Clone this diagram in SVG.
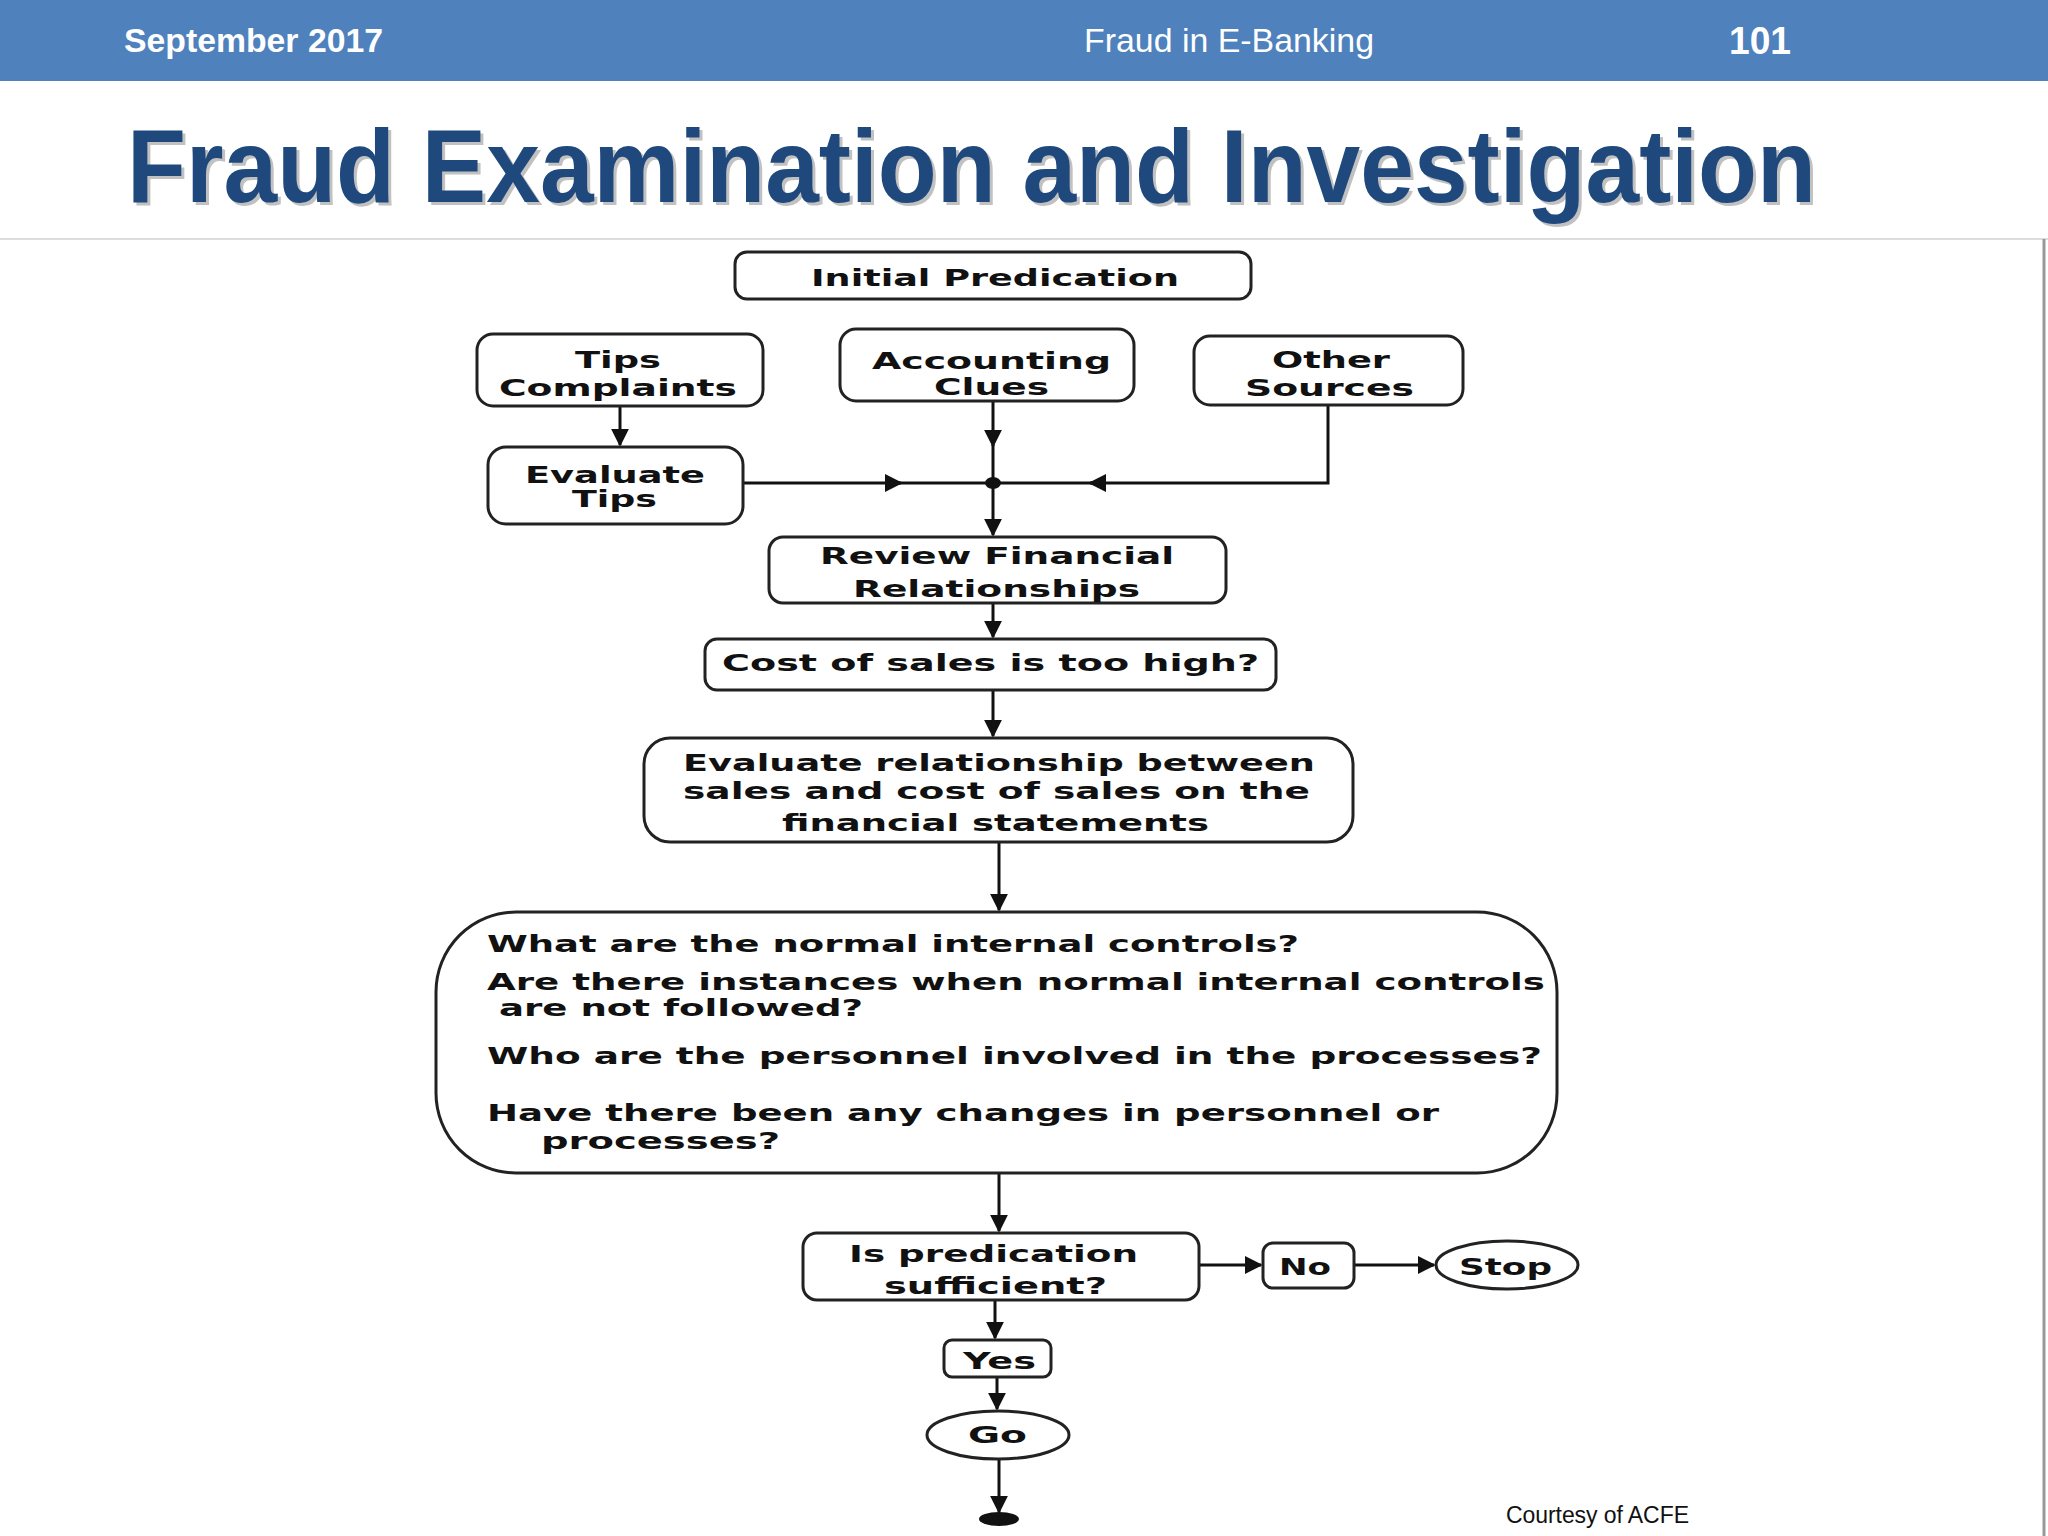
<svg xmlns="http://www.w3.org/2000/svg" width="2048" height="1536" viewBox="0 0 2048 1536">
<style>
.b{fill:#fff;stroke:#222;stroke-width:3}
.t{font-family:"DejaVu Sans",sans-serif;font-weight:bold;font-size:23px;fill:#111}
.c{stroke:#111;stroke-width:3;fill:none}
.h{font-family:"Liberation Sans",Arial,sans-serif;fill:#fff}
</style>
<defs>
<marker id="a" viewBox="0 0 10 10" refX="9" refY="5" markerWidth="6" markerHeight="6" orient="auto"><path d="M0,0L10,5L0,10z" fill="#111"/></marker>
</defs>
<rect width="2048" height="1536" fill="#fff"/>
<rect width="2048" height="81" fill="#4F81BD"/>
<text class="h" x="124" y="52" font-size="34" font-weight="bold" textLength="259" lengthAdjust="spacingAndGlyphs">September 2017</text>
<text class="h" x="1084" y="52" font-size="34" textLength="290" lengthAdjust="spacingAndGlyphs">Fraud in E-Banking</text>
<text class="h" x="1729" y="54" font-size="39" font-weight="bold" textLength="62" lengthAdjust="spacingAndGlyphs">101</text>
<text x="130" y="205" font-family="Liberation Sans,Arial,sans-serif" font-weight="bold" font-size="104" fill="#999" opacity="0.6" textLength="1689" lengthAdjust="spacingAndGlyphs">Fraud Examination and Investigation</text>
<text x="127" y="202" font-family="Liberation Sans,Arial,sans-serif" font-weight="bold" font-size="104" fill="#1F497D" textLength="1689" lengthAdjust="spacingAndGlyphs">Fraud Examination and Investigation</text>
<line x1="0" y1="239" x2="2048" y2="239" stroke="#ddd" stroke-width="2"/>
<line x1="2044" y1="239" x2="2044" y2="1536" stroke="#999" stroke-width="3"/>

<g id="connectors">
<path class="c" d="M620,406V445" marker-end="url(#a)"/>
<path class="c" d="M993,401V446" marker-end="url(#a)"/>
<path class="c" d="M993,445V483"/>
<path class="c" d="M993,483V535" marker-end="url(#a)"/>
<path class="c" d="M743,483H901" marker-end="url(#a)"/><path class="c" d="M890,483H993"/>
<path class="c" d="M1328,405V483H1090" marker-end="url(#a)"/><path class="c" d="M1100,483H993"/>
<ellipse cx="993" cy="483" rx="8" ry="6" fill="#111"/>
<path class="c" d="M993,603V637" marker-end="url(#a)"/>
<path class="c" d="M993,690V736" marker-end="url(#a)"/>
<path class="c" d="M999,842V910" marker-end="url(#a)"/>
<path class="c" d="M999,1173V1231" marker-end="url(#a)"/>
<path class="c" d="M1199,1265H1261" marker-end="url(#a)"/>
<path class="c" d="M1354,1265H1434" marker-end="url(#a)"/>
<path class="c" d="M995,1300V1338" marker-end="url(#a)"/>
<path class="c" d="M997,1377V1409" marker-end="url(#a)"/>
<path class="c" d="M999,1459V1512" marker-end="url(#a)"/>
<ellipse cx="999" cy="1519" rx="20" ry="7" fill="#111"/>
</g>

<g id="n1"><rect class="b" x="735" y="252" width="516" height="47" rx="12"/><text class="t" x="811" y="286" textLength="368" lengthAdjust="spacingAndGlyphs">Initial Predication</text></g>
<g id="n2"><rect class="b" x="477" y="334" width="286" height="72" rx="16"/><text class="t" x="575" y="368" textLength="86" lengthAdjust="spacingAndGlyphs">Tips</text><text class="t" x="499" y="396" textLength="238" lengthAdjust="spacingAndGlyphs">Complaints</text></g>
<g id="n3"><rect class="b" x="840" y="329" width="294" height="72" rx="16"/><text class="t" x="872" y="369" textLength="239" lengthAdjust="spacingAndGlyphs">Accounting</text><text class="t" x="934" y="395" textLength="115" lengthAdjust="spacingAndGlyphs">Clues</text></g>
<g id="n4"><rect class="b" x="1194" y="336" width="269" height="69" rx="16"/><text class="t" x="1272" y="368" textLength="118" lengthAdjust="spacingAndGlyphs">Other</text><text class="t" x="1245" y="396" textLength="169" lengthAdjust="spacingAndGlyphs">Sources</text></g>
<g id="n5"><rect class="b" x="488" y="447" width="255" height="77" rx="18"/><text class="t" x="525" y="483" textLength="180" lengthAdjust="spacingAndGlyphs">Evaluate</text><text class="t" x="572" y="507" textLength="85" lengthAdjust="spacingAndGlyphs">Tips</text></g>
<g id="n6"><rect class="b" x="769" y="537" width="457" height="66" rx="14"/><text class="t" x="820" y="564" textLength="354" lengthAdjust="spacingAndGlyphs">Review Financial</text><text class="t" x="853" y="597" textLength="287" lengthAdjust="spacingAndGlyphs">Relationships</text></g>
<g id="n7"><rect class="b" x="705" y="639" width="571" height="51" rx="12"/><text class="t" x="722" y="671" textLength="537" lengthAdjust="spacingAndGlyphs">Cost of sales is too high?</text></g>
<g id="n8"><rect class="b" x="644" y="738" width="709" height="104" rx="26"/><text class="t" x="683" y="771" textLength="632" lengthAdjust="spacingAndGlyphs">Evaluate relationship between</text><text class="t" x="683" y="799" textLength="627" lengthAdjust="spacingAndGlyphs">sales and cost of sales on the</text><text class="t" x="782" y="831" textLength="427" lengthAdjust="spacingAndGlyphs">financial statements</text></g>
<g id="n9"><rect class="b" x="436" y="912" width="1121" height="261" rx="80"/>
<text class="t" x="487" y="952" textLength="812" lengthAdjust="spacingAndGlyphs">What are the normal internal controls?</text>
<text class="t" x="487" y="990" textLength="1058" lengthAdjust="spacingAndGlyphs">Are there instances when normal internal controls</text>
<text class="t" x="499" y="1016" textLength="364" lengthAdjust="spacingAndGlyphs">are not followed?</text>
<text class="t" x="487" y="1064" textLength="1055" lengthAdjust="spacingAndGlyphs">Who are the personnel involved in the processes?</text>
<text class="t" x="487" y="1121" textLength="952" lengthAdjust="spacingAndGlyphs">Have there been any changes in personnel or</text>
<text class="t" x="541" y="1149" textLength="239" lengthAdjust="spacingAndGlyphs">processes?</text></g>
<g id="n10"><rect class="b" x="803" y="1233" width="396" height="67" rx="14"/><text class="t" x="849" y="1262" textLength="289" lengthAdjust="spacingAndGlyphs">Is predication</text><text class="t" x="884" y="1294" textLength="223" lengthAdjust="spacingAndGlyphs">sufficient?</text></g>
<g id="n11"><rect class="b" x="1263" y="1243" width="91" height="45" rx="10"/><text class="t" x="1279" y="1275" textLength="52" lengthAdjust="spacingAndGlyphs">No</text></g>
<g id="n12"><ellipse class="b" cx="1507" cy="1265" rx="71" ry="24"/><text class="t" x="1459" y="1275" textLength="93" lengthAdjust="spacingAndGlyphs">Stop</text></g>
<g id="n13"><rect class="b" x="944" y="1340" width="107" height="37" rx="8"/><text class="t" x="963" y="1369" textLength="73" lengthAdjust="spacingAndGlyphs">Yes</text></g>
<g id="n14"><ellipse class="b" cx="998" cy="1435" rx="71" ry="24"/><text class="t" x="968" y="1443" textLength="59" lengthAdjust="spacingAndGlyphs">Go</text></g>
<text x="1506" y="1523" font-family="Liberation Sans,Arial,sans-serif" font-size="23" fill="#111" textLength="183">Courtesy of ACFE</text>
</svg>
